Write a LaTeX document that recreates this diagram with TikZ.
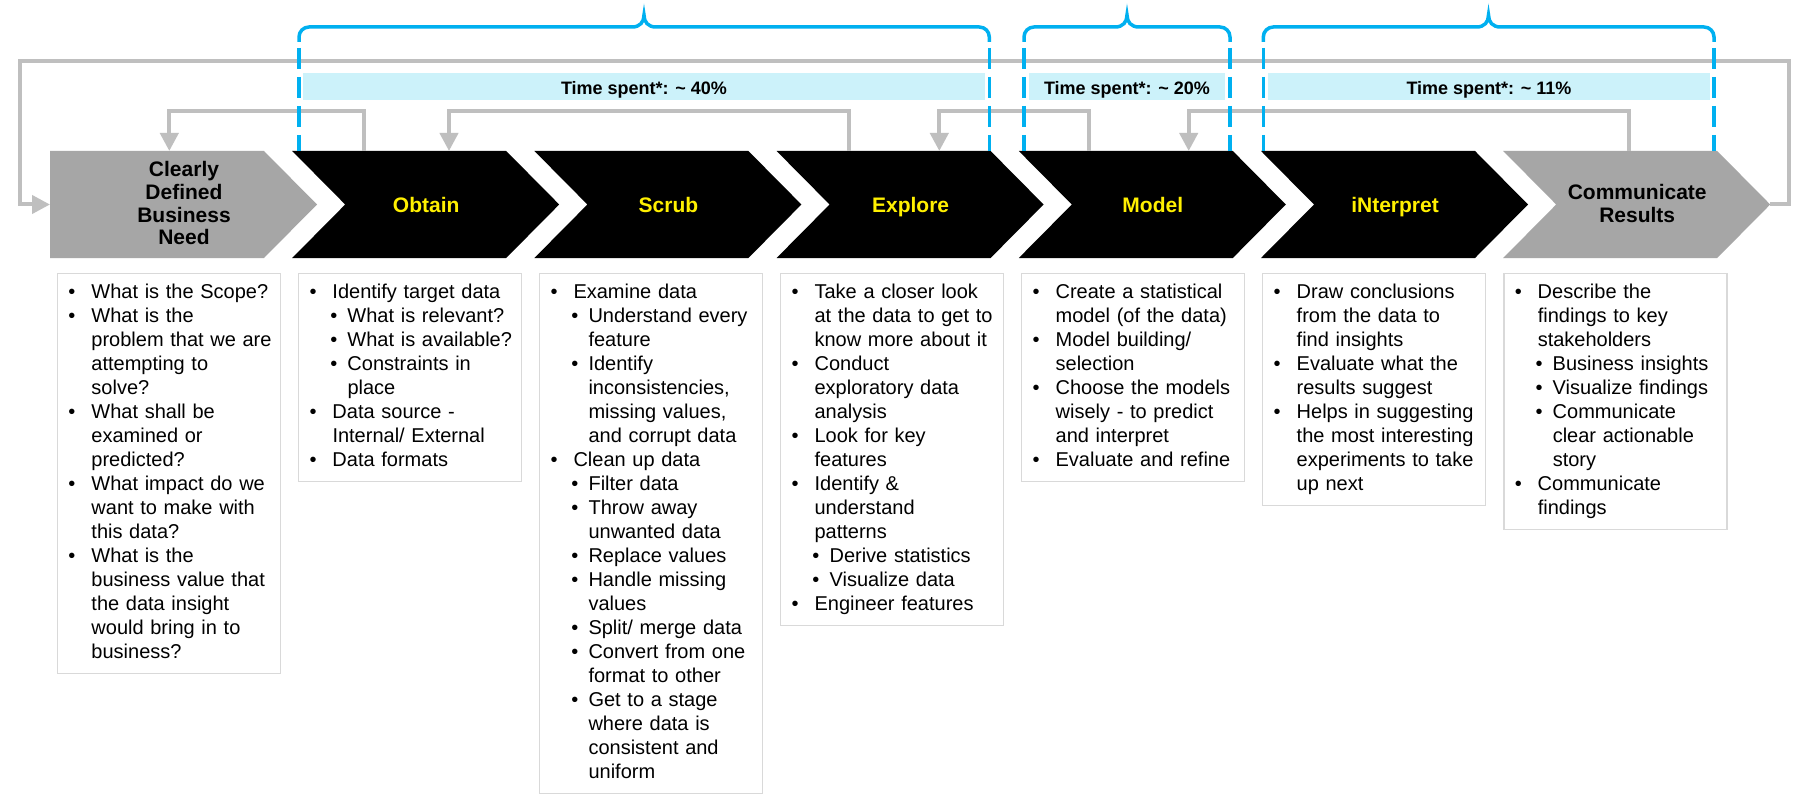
\documentclass[tikz,border=0pt]{standalone}
\usepackage{fontspec}
\setmainfont{Liberation Sans}
\usetikzlibrary{arrows.meta,calc}
\definecolor{chevgray}{HTML}{A6A6A6}
\definecolor{linegray}{HTML}{BFBFBF}
\definecolor{boxgray}{HTML}{D9D9D9}
\definecolor{bluebr}{HTML}{00B0F0}
\definecolor{barblue}{RGB}{204,242,250}
\definecolor{ylw}{RGB}{255,240,0}
\newcommand{\bulA}[1]{\strut\makebox[23pt][l]{•}\mbox{#1}}
\newcommand{\conA}[1]{\strut\hspace*{23pt}\mbox{#1}}
\newcommand{\bulB}[1]{\strut\hspace*{20.8pt}\makebox[17.2pt][l]{•}\mbox{#1}}
\newcommand{\conB}[1]{\strut\hspace*{38pt}\mbox{#1}}
\newcommand{\tbrace}[3]{%
  \draw[bracesolid] (#1,-42) -- (#1,-37) arc[start angle=180,end angle=90,radius=10] -- ({#2-12},-27)
    .. controls ({#2-4},-27) and (#2,-22) .. (#2,-15)
    .. controls (#2,-22) and ({#2+4},-27) .. ({#2+12},-27)
    -- ({#3-10},-27) arc[start angle=90,end angle=0,radius=10] -- (#3,-42);
  \draw[bracedash] (#1,-48) -- (#1,-151);
  \draw[bracedash] (#3,-48) -- (#3,-151);
}
\begin{document}
\begin{tikzpicture}[x=1pt,y=1pt,
  chevlbl/.style={font=\fontsize{21}{21.7}\selectfont\bfseries, align=center, inner sep=0pt},
  txtbox/.style={draw=boxgray, line width=1.5pt, anchor=north west, inner xsep=11pt, inner ysep=8pt,
     text width=201pt, align=left, font=\fontsize{20}{24}\selectfont},
  timebar/.style={fill=barblue, minimum height=27pt, inner sep=0pt, text height=16pt, text depth=0pt,
     font=\fontsize{18}{20}\selectfont\bfseries},
  conn/.style={draw=linegray, line width=4pt, -{Triangle[length=18pt,width=18pt]}},
  bracesolid/.style={draw=bluebr, line width=3.5pt},
  bracedash/.style={draw=bluebr, line width=3.5pt, dash pattern=on 21pt off 8pt}
]
\useasboundingbox (0,0) rectangle (1810,-805);
\fill[white] (0,0) rectangle (1810,-805);

% time bars
\node[timebar, minimum width=682pt] (bar1) at (644,-87) {Time spent*: \textasciitilde{} 40\%};
\node[timebar, minimum width=196pt] (bar2) at (1127,-87) {Time spent*: \textasciitilde{} 20\%};
\node[timebar, minimum width=442pt] (bar3) at (1489,-87) {Time spent*: \textasciitilde{} 11\%};

% chevrons
\fill[chevgray] (50,-151) -- ++(214,0) -- ++(53,-53.5) -- ++(-53,-53.5) -- ++(-214,0) -- cycle;
\foreach \xx in {292.2,534.4,776.6,1018.8,1261}
  \fill[black] (\xx,-151) -- ++(214,0) -- ++(53,-53.5) -- ++(-53,-53.5) -- ++(-214,0) -- ++(53,53.5) -- cycle;
\fill[chevgray] (1503.2,-151) -- ++(214,0) -- ++(53,-53.5) -- ++(-53,-53.5) -- ++(-214,0) -- ++(53,53.5) -- cycle;

\node[chevlbl, text=black] (c0) at (184,-206.5) {\strut Clearly\\\strut Defined\\\strut Business\\\strut Need};
\node[chevlbl, text=ylw] (c1) at (426.2,-207.9) {\strut Obtain};
\node[chevlbl, text=ylw] (c2) at (668.4,-207.9) {\strut Scrub};
\node[chevlbl, text=ylw] (c3) at (910.6,-207.9) {\strut Explore};
\node[chevlbl, text=ylw] (c4) at (1152.8,-207.9) {\strut Model};
\node[chevlbl, text=ylw] (c5) at (1395,-207.9) {\strut iNterpret};
\node[chevlbl, text=black] (c6) at (1637.2,-206.8) {\strut Communicate\\\strut Results};

% connector end points
\coordinate (s1) at (364,-151);
\coordinate (t0) at (169.3,-151);
\coordinate (s3) at (849,-151);
\coordinate (t1) at (449,-151);
\coordinate (s4) at (1089,-151);
\coordinate (t3) at (939.3,-151);
\coordinate (s6) at (1628.6,-151);
\coordinate (t4) at (1188.7,-151);
\coordinate (tip6) at (1770.2,-204.5);
\coordinate (left0) at (50,-204.5);

\draw[conn] (s1) -- ++(0,40) -| (t0);
\draw[conn] (s3) -- ++(0,40) -| (t1);
\draw[conn] (s4) -- ++(0,40) -| (t3);
\draw[conn] (s6) -- ++(0,40) -| (t4);
\draw[conn] (tip6) -- (1789,-204.5) -- (1789,-61) -- (20,-61) -- (20,-204.5) -- (left0);

% braces
\tbrace{299}{644}{989.3}
\tbrace{1024}{1127}{1230}
\tbrace{1263.3}{1488.5}{1714}

% text boxes
\node[txtbox] (b0) at (56.7,-272.5) {%
\bulA{What is the Scope?}\\
\bulA{What is the}\\
\conA{problem that we are}\\
\conA{attempting to}\\
\conA{solve?}\\
\bulA{What shall be}\\
\conA{examined or}\\
\conA{predicted?}\\
\bulA{What impact do we}\\
\conA{want to make with}\\
\conA{this data?}\\
\bulA{What is the}\\
\conA{business value that}\\
\conA{the data insight}\\
\conA{would bring in to}\\
\conA{business?}};

\node[txtbox] (b1) at (297.75,-272.5) {%
\bulA{Identify target data}\\
\bulB{What is relevant?}\\
\bulB{What is available?}\\
\bulB{Constraints in}\\
\conB{place}\\
\bulA{Data source -}\\
\conA{Internal/ External}\\
\bulA{Data formats}};

\node[txtbox] (b2) at (538.8,-272.5) {%
\bulA{Examine data}\\
\bulB{Understand every}\\
\conB{feature}\\
\bulB{Identify}\\
\conB{inconsistencies,}\\
\conB{missing values,}\\
\conB{and corrupt data}\\
\bulA{Clean up data}\\
\bulB{Filter data}\\
\bulB{Throw away}\\
\conB{unwanted data}\\
\bulB{Replace values}\\
\bulB{Handle missing}\\
\conB{values}\\
\bulB{Split/ merge data}\\
\bulB{Convert from one}\\
\conB{format to other}\\
\bulB{Get to a stage}\\
\conB{where data is}\\
\conB{consistent and}\\
\conB{uniform}};

\node[txtbox] (b3) at (779.85,-272.5) {%
\bulA{Take a closer look}\\
\conA{at the data to get to}\\
\conA{know more about it}\\
\bulA{Conduct}\\
\conA{exploratory data}\\
\conA{analysis}\\
\bulA{Look for key}\\
\conA{features}\\
\bulA{Identify \&}\\
\conA{understand}\\
\conA{patterns}\\
\bulB{Derive statistics}\\
\bulB{Visualize data}\\
\bulA{Engineer features}};

\node[txtbox] (b4) at (1020.9,-272.5) {%
\bulA{Create a statistical}\\
\conA{model (of the data)}\\
\bulA{Model building/}\\
\conA{selection}\\
\bulA{Choose the models}\\
\conA{wisely - to predict}\\
\conA{and interpret}\\
\bulA{Evaluate and refine}};

\node[txtbox] (b5) at (1261.95,-272.5) {%
\bulA{Draw conclusions}\\
\conA{from the data to}\\
\conA{find insights}\\
\bulA{Evaluate what the}\\
\conA{results suggest}\\
\bulA{Helps in suggesting}\\
\conA{the most interesting}\\
\conA{experiments to take}\\
\conA{up next}};

\node[txtbox] (b6) at (1503,-272.5) {%
\bulA{Describe the}\\
\conA{findings to key}\\
\conA{stakeholders}\\
\bulB{Business insights}\\
\bulB{Visualize findings}\\
\bulB{Communicate}\\
\conB{clear actionable}\\
\conB{story}\\
\bulA{Communicate}\\
\conA{findings}};
\end{tikzpicture}
\end{document}
